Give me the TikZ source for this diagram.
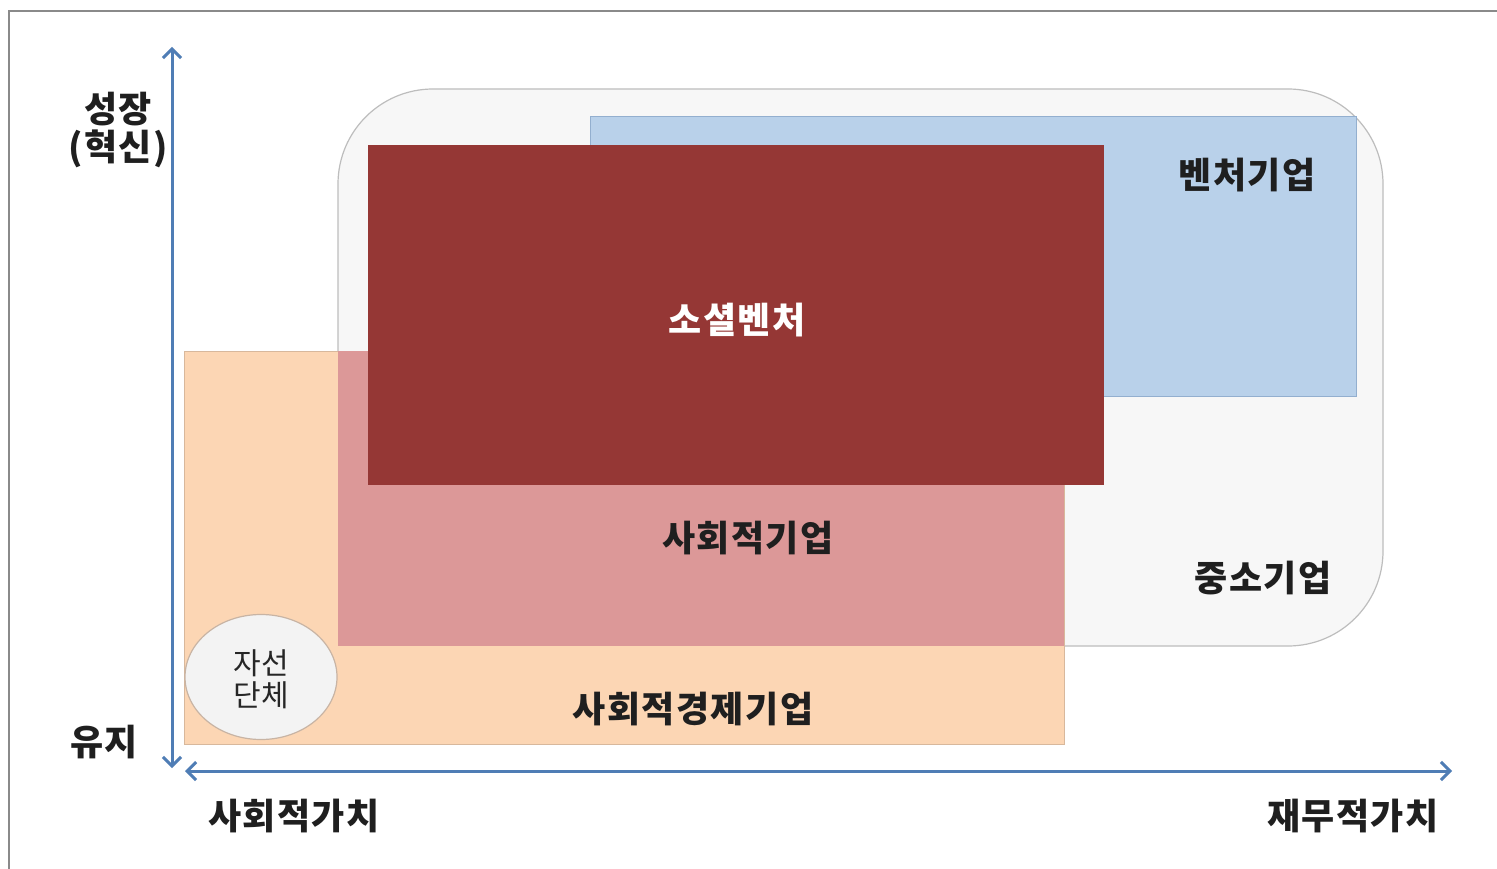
\documentclass[tikz,border=0pt]{standalone}
\usepackage{fontspec}
\setmainfont{Noto Sans CJK KR}
\usetikzlibrary{arrows.meta,shapes.geometric}
\definecolor{axisblue}{HTML}{4F7DB5}
\definecolor{framegray}{HTML}{8A8A8A}
\definecolor{smegray}{HTML}{F7F7F7}
\definecolor{smeline}{HTML}{BDBDBD}
\definecolor{ventblue}{HTML}{B9D1EA}
\definecolor{ventline}{HTML}{93AFCF}
\definecolor{peach}{HTML}{FCD6B4}
\definecolor{peachline}{HTML}{D8B89C}
\definecolor{pinkfill}{HTML}{DC9898}
\definecolor{darkred}{HTML}{953735}
\definecolor{ellfill}{HTML}{F3F3F3}
\definecolor{ellline}{HTML}{C8B4A4}
\tikzset{
  axisline/.style={draw=axisblue, line width=3pt, {Straight Barb[length=9pt,width=18pt,line width=3pt]}-{Straight Barb[length=9pt,width=18pt,line width=3pt]}},
  biglabel/.style={font=\fontsize{36}{42}\selectfont\bfseries\addfontfeatures{LetterSpace=4}, text=black!88, inner sep=0pt},
  smalllabel/.style={font=\fontsize{30}{34}\selectfont, text=black!85, align=center, inner sep=0pt},
}
\begin{document}
\begin{tikzpicture}[x=1pt,y=-1pt]
\useasboundingbox (0,0) rectangle (1497,869);
\fill[white] (0,0) rectangle (1497,869);
% outer frame
\draw[framegray, line width=1.5pt] (9,869) -- (9,11) -- (1497,11);
% regions
\draw[fill=smegray, draw=smeline, line width=1.2pt, rounded corners=95pt] (338,89) rectangle (1383,646);
\draw[fill=ventblue, draw=ventline, line width=1pt] (590,117) rectangle (1356,396);
\draw[fill=peach, draw=peachline, line width=1pt] (184,351) rectangle (1064,744);
\fill[pinkfill] (338,351) rectangle (1064,646);
\fill[darkred] (368,145) rectangle (1104,485);
\node[draw=ellline, fill=ellfill, line width=1.2pt, ellipse, minimum width=152pt, minimum height=125pt, inner sep=0pt] (charity) at (261,677) {};
% labels
\node[biglabel, text=white] (social) at (737,320) {소셜벤처};
\node[biglabel] (venture) at (1247,175) {벤처기업};
\node[biglabel] (socent) at (748,538) {사회적기업};
\node[biglabel] (sme) at (1263,578) {중소기업};
\node[biglabel] (soceco) at (693,709) {사회적경제기업};
\node[smalllabel] (charitytxt) at (261,679) {자선\\[-2pt]단체};
% axes
\coordinate (ytop) at (172,47);
\coordinate (ybot) at (172,768);
\coordinate (xleft) at (185,771);
\coordinate (xright) at (1452,771);
\draw[axisline] (ybot) -- (ytop);
\draw[axisline] (xleft) -- (xright);
\node[biglabel, align=center] (growth) at (118,130) {성장\\[-4pt](혁신)};
\node[biglabel] (keep) at (104,742) {유지};
\node[biglabel] (socval) at (294,816) {사회적가치};
\node[biglabel] (finval) at (1353,816) {재무적가치};
\end{tikzpicture}
\end{document}
